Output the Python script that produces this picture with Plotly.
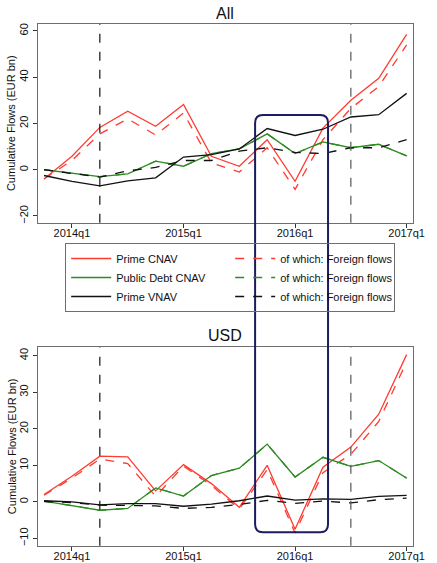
import plotly.graph_objects as go

W, H = 437, 563

quarters = ["2013q4", "2014q1", "2014q2", "2014q3", "2014q4", "2015q1", "2015q2",
            "2015q3", "2015q4", "2016q1", "2016q2", "2016q3", "2016q4", "2017q1"]
tick_labels = ["2014q1", "2015q1", "2016q1", "2017q1"]
event_quarters = ["2014q2", "2016q3"]

# Panel "All"
all_prime_cnav = [-4, 5.8, 18.3, 25.3, 18.8, 28.2, 5.8, 1.5, 13, -5, 18, 30, 39.5, 58.5]
all_prime_cnav_for = [-4, 4, 15.5, 22, 15, 24.5, 3, -1, 9.5, -8.5, 13, 26.5, 36, 54]
all_pub_cnav = [0, -1.5, -3, -1.8, 3.7, 1.5, 7, 9, 15.5, 7, 12, 9.5, 11, 6]
all_pub_cnav_for = [0, -1.5, -3, -1.8, 3.7, 1.5, 7, 9, 15.5, 7, 12, 9.5, 11, 6]
all_prime_vnav = [-2.5, -5, -7, -4.8, -3.5, 5.5, 6.5, 9, 17.8, 14.8, 17.5, 22.8, 23.8, 33]
all_prime_vnav_for = [0, -1.5, -3.2, -0.5, 1, 4, 4, 8, 9.5, 7.5, 7, 9.5, 9.5, 13]

# Panel "USD"
usd_prime_cnav = [2, 7, 12.5, 12.3, 3, 10.2, 5, -1.5, 10, -7.5, 9.5, 15, 24, 40.3]
usd_prime_cnav_for = [1.8, 6.5, 11.7, 10.5, 1.5, 9.8, 4.5, -2, 8.8, -8.5, 8, 13, 22, 38.3]
usd_pub_cnav = [0.2, -1, -2.3, -1.8, 3.8, 1.6, 7.2, 9.2, 15.8, 6.8, 12.2, 9.7, 11.3, 6.5]
usd_pub_cnav_for = [0.2, -1, -2.3, -1.8, 3.8, 1.6, 7.2, 9.2, 15.8, 6.8, 12.2, 9.7, 11.3, 6.5]
usd_prime_vnav = [0.3, 0, -0.8, -0.5, -0.5, -1.2, -0.6, 0.3, 1.6, 0.5, 0.8, 0.7, 1.5, 1.8]
usd_prime_vnav_for = [0.1, -0.2, -0.9, -1, -1.1, -1.8, -1.5, -0.7, 0.4, -0.4, 0.2, -0.3, 0.6, 1.0]

RED = "#ff3b30"
GREEN = "#2e8b22"
BLACK = "#111111"
FONT = "Liberation Sans"
YTITLE = "Cumulative Flows (EUR bn)"

def px_x(p):
    return p / W

def px_y(p):
    return 1 - p / H

fig = go.Figure()

series = [
    ("Prime CNAV", RED, "solid", all_prime_cnav, usd_prime_cnav),
    ("of which: Foreign flows", RED, "dash", all_prime_cnav_for, usd_prime_cnav_for),
    ("Public Debt CNAV", GREEN, "solid", all_pub_cnav, usd_pub_cnav),
    ("of which: Foreign flows", GREEN, "dash", all_pub_cnav_for, usd_pub_cnav_for),
    ("Prime VNAV", BLACK, "solid", all_prime_vnav, usd_prime_vnav),
    ("of which: Foreign flows", BLACK, "dash", all_prime_vnav_for, usd_prime_vnav_for),
]

for i, (name, col, dash, ya, yu) in enumerate(series):
    lw = 1.3
    fig.add_trace(go.Scatter(x=quarters, y=ya, mode="lines", name=name,
                             line=dict(color=col, dash=dash, width=lw),
                             xaxis="x", yaxis="y", showlegend=True))
    fig.add_trace(go.Scatter(x=quarters, y=yu, mode="lines", name=name,
                             line=dict(color=col, dash=dash, width=lw),
                             xaxis="x2", yaxis="y2", showlegend=False))

xdom = [px_x(38.7), px_x(424.7)]
axis_common = dict(showgrid=False, zeroline=False, showline=True, mirror=True,
                   linecolor="#6e6e6e", linewidth=1, ticks="outside", ticklen=4,
                   tickcolor="#333333", tickfont=dict(family=FONT, size=11, color="#111"))

xax = dict(axis_common, type="category", range=[-0.23, 13.23], tickmode="array",
           tickvals=tick_labels, ticktext=tick_labels, ticklabelstandoff=-4)
fig.update_layout(
    xaxis=dict(xax, domain=xdom, anchor="y"),
    xaxis2=dict(xax, domain=xdom, anchor="y2"),
    yaxis=dict(axis_common, domain=[px_y(222.7), px_y(24)], anchor="x",
               range=[-22.9, 63], tickvals=[-20, 0, 20, 40, 60], tickangle=-90,
               automargin=False),
    yaxis2=dict(axis_common, domain=[px_y(545.7), px_y(347.3)], anchor="x2",
                range=[-12.0, 42.3], tickvals=[-10, 0, 10, 20, 30, 40], tickangle=-90,
                automargin=False),
)

shapes = []
for xr, yr in [("x", "y domain"), ("x2", "y2 domain")]:
    for j, q in enumerate(event_quarters):
        shapes.append(dict(type="line", xref=xr, yref=yr,
                           x0=quarters.index(q), x1=quarters.index(q), y0=0, y1=1,
                           line=dict(color="#111111" if j == 0 else "#555555",
                                     dash="dash", width=1.2), layer="above"))

# rounded highlight rectangle spanning both panels
x0, x1 = px_x(262.3), px_x(337.3)
yt, yb = px_y(115), px_y(532.3)
rx, ry = 8 / W, 8 / H
path = (f"M {x0+rx},{yt} L {x1-rx},{yt} Q {x1},{yt} {x1},{yt-ry} "
        f"L {x1},{yb+ry} Q {x1},{yb} {x1-rx},{yb} L {x0+rx},{yb} "
        f"Q {x0},{yb} {x0},{yb+ry} L {x0},{yt-ry} Q {x0},{yt} {x0+rx},{yt} Z")
shapes.append(dict(type="path", xref="paper", yref="paper", path=path,
                   line=dict(color="#1c1c5e", width=2), layer="above"))

annotations = [
    dict(text="All", x=px_x(231.7), y=px_y(14), xref="paper", yref="paper",
         showarrow=False, font=dict(family=FONT, size=16, color="#111"),
         xanchor="center", yanchor="middle"),
    dict(text="USD", x=px_x(231.7), y=px_y(335), xref="paper", yref="paper",
         showarrow=False, font=dict(family=FONT, size=16, color="#111"),
         xanchor="center", yanchor="middle"),
    dict(text=YTITLE, x=px_x(12), y=px_y(123.4), xref="paper", yref="paper",
         showarrow=False, textangle=-90, font=dict(family=FONT, size=11, color="#111"),
         xanchor="center", yanchor="middle"),
    dict(text=YTITLE, x=px_x(12), y=px_y(446.5), xref="paper", yref="paper",
         showarrow=False, textangle=-90, font=dict(family=FONT, size=11, color="#111"),
         xanchor="center", yanchor="middle"),
]

fig.update_layout(
    width=W, height=H,
    margin=dict(l=0, r=0, t=0, b=0),
    paper_bgcolor="white", plot_bgcolor="white",
    shapes=shapes, annotations=annotations,
    font=dict(family=FONT, size=11, color="#111"),
    legend=dict(orientation="h", x=px_x(67), y=px_y(243), xanchor="left", yanchor="top",
                bordercolor="#6e6e6e", borderwidth=1, bgcolor="rgba(0,0,0,0)",
                entrywidth=109, entrywidthmode="pixels", traceorder="normal",
                font=dict(family=FONT, size=11, color="#111"), tracegroupgap=0,
                itemwidth=40),
)

fig.write_html("out.html", post_script="document.body.style.margin='0';",
               config={"displayModeBar": False})
